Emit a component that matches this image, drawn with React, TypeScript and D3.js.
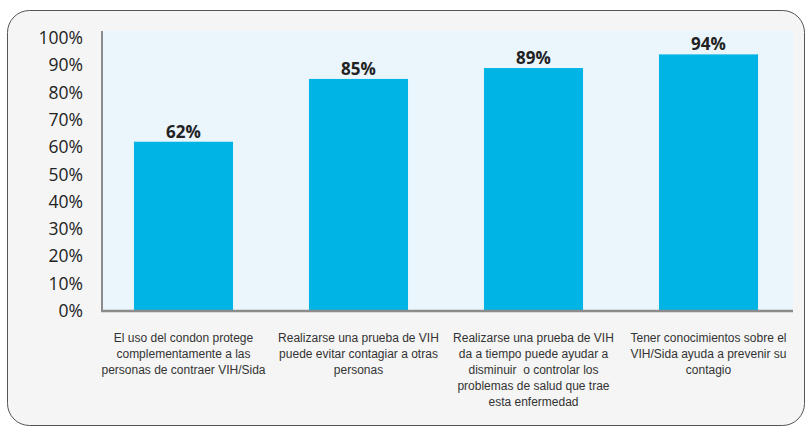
import React from 'react';
import * as d3 from 'd3';

const categories = [
  ['El uso del condon protege', 'complementamente a las', 'personas de contraer VIH/Sida'],
  ['Realizarse una prueba de VIH', 'puede evitar contagiar a otras', 'personas'],
  ['Realizarse una prueba de VIH', 'da a tiempo puede ayudar a', 'disminuir  o controlar los', 'problemas de salud que trae', 'esta enfermedad'],
  ['Tener conocimientos sobre el', 'VIH/Sida ayuda a prevenir su', 'contagio'],
];
const values = [62, 85, 89, 94];
const yTicks = [0, 10, 20, 30, 40, 50, 60, 70, 80, 90, 100];

const W = 806;
const H = 428;

export default function App() {
  const x = d3.scaleBand<number>()
    .domain(values.map((_, i) => i))
    .range([96, 796])
    .paddingInner(0.434)
    .paddingOuter(0.217);
  const y = d3.scaleLinear().domain([0, 100]).range([311, 38]);

  const plotLeft = 102;
  const plotRight = 793;
  const plotTop = 31;

  return (
    <svg width={W} height={H} style={{ position: 'absolute', left: 0, top: 0 }}>
      <rect x={0} y={0} width={W} height={H} fill="#ffffff" />
      <rect x={7.5} y={10.5} width={797} height={415} rx={22} ry={22}
        fill="#f5f5f5" stroke="#555" strokeWidth={1} />
      <rect x={plotLeft} y={plotTop} width={plotRight - plotLeft} height={311 - plotTop} fill="#eaf5fc" />
      {values.map((v, i) => (
        <rect key={i} x={x(i)} y={y(v)} width={x.bandwidth()} height={y(0) - y(v)} fill="#00b5e5" />
      ))}
      <line x1={plotLeft} x2={plotLeft} y1={plotTop} y2={312} stroke="#8c8c8c" strokeWidth={2} />
      <line x1={plotLeft - 1} x2={plotRight} y1={311} y2={311} stroke="#8c8c8c" strokeWidth={2.5} />
      {yTicks.map((t) => (
        <text key={t} x={83} y={y(t) + 6} textAnchor="end" fontFamily="Open Sans, sans-serif"
          fontSize={17.5} fill="#222">{`${t}%`}</text>
      ))}
      {values.map((v, i) => (
        <text key={i} x={(x(i) ?? 0) + x.bandwidth() / 2} y={y(v) - 4} textAnchor="middle"
          fontFamily="Open Sans, sans-serif" fontWeight="bold" fontSize={17} fill="#222">{`${v}%`}</text>
      ))}
      {categories.map((lines, i) => (
        <text key={i} textAnchor="middle" fontFamily="Liberation Sans, Arial, sans-serif"
          fontSize={12} fill="#333">
          {lines.map((l, j) => (
            <tspan key={j} x={(x(i) ?? 0) + x.bandwidth() / 2} y={342 + j * 16} xmlSpace="preserve">{l}</tspan>
          ))}
        </text>
      ))}
    </svg>
  );
}
